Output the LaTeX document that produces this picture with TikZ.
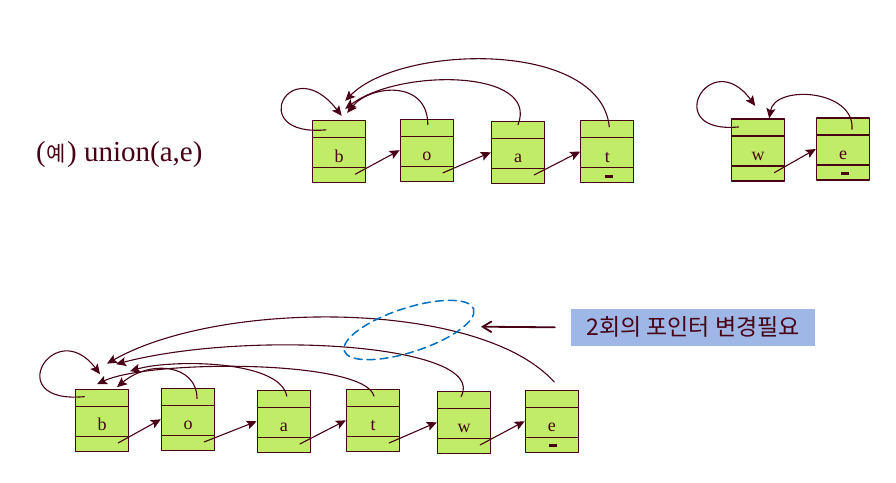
\documentclass[tikz,border=0pt]{standalone}
\usepackage{fontspec}
\setmainfont{Liberation Serif}
\newfontfamily\krfont{Noto Sans CJK KR}
\usetikzlibrary{arrows.meta,calc}

\definecolor{cellgreen}{RGB}{192,236,104}
\definecolor{ink}{RGB}{72,0,20}
\definecolor{notefill}{RGB}{158,183,230}
\definecolor{ringblue}{RGB}{0,112,192}

\tikzset{
  cell/.style={draw=ink, fill=cellgreen, line width=1.3pt, minimum width=53pt,
    minimum height=62pt, inner sep=0pt, text=ink, font=\fontsize{18}{18}\selectfont,
    text height=21pt, text depth=0pt,
    path picture={
      \draw[ink, line width=1.3pt] ([yshift=-17pt]path picture bounding box.north west)
        -- ([yshift=-17pt]path picture bounding box.north east);
      \draw[ink, line width=1.3pt] ([yshift=15pt]path picture bounding box.south west)
        -- ([yshift=15pt]path picture bounding box.south east);
    }},
  ptr/.style={draw=ink, line width=1.1pt, -{Stealth[length=10pt,width=9pt,inset=2pt]}},
  nil/.style={fill=ink},
  ring/.style={draw=ringblue, line width=1.5pt, dash pattern=on 8pt off 5pt},
  note/.style={fill=notefill, minimum width=244pt, minimum height=36.7pt, inner sep=0pt,
    text=ink, font=\krfont\fontsize{23}{23}\selectfont},
  hint/.style={draw=ink, line width=1.8pt, -{Straight Barb[length=9pt,width=11pt]}}
}

\begin{document}
\begin{tikzpicture}[x=1pt, y=-1pt, line cap=round, line join=round]
  \useasboundingbox (0,0) rectangle (896,482);

  \node[anchor=base west, inner sep=0pt, text=ink, font=\fontsize{29}{29}\selectfont]
    (title) at (36,161.5) {(\hspace{1pt}{\krfont\fontsize{21}{21}\selectfont 예}\hspace{1pt}) union(a,e)};

  % before: two sets
  \node[cell] (b1) at (339.2,151.5) {b};
  \node[cell] (o1) at (426.8,150.2) {o};
  \node[cell] (a1) at (518,152.3) {a};
  \node[cell] (t1) at (607.3,151.5) {t};
  \node[cell] (w1) at (758.2,150) {w};
  \node[cell] (e1) at (843,149) {e};

  % after union
  \node[cell] (b2) at (102,420.3) {b};
  \node[cell] (o2) at (188,419.3) {o};
  \node[cell] (a2) at (283.8,421.3) {a};
  \node[cell] (t2) at (373,420.3) {t};
  \node[cell] (w2) at (464,422.3) {w};
  \node[cell] (e2) at (551.8,421.2) {e};

  \foreach \p/\q in {b1/o1,o1/a1,a1/t1,w1/e1,b2/o2,o2/a2,a2/t2,t2/w2,w2/e2}
    \draw[ptr] ([shift={(-11,-9)}]\p.south east) -- (\q.west);

  \foreach \n in {t1,e1,e2}
    \fill[nil] ([shift={(-2.5,-8.5)}]\n.south) rectangle ++(8,3);

  % parent links, top
  \draw[ptr] ([shift={(14,10)}]b1.north west) .. controls +(-81.7,7.5) and +(-51.7,-66.5) .. ([shift={(2.5,-4)}]b1.north);
  \draw[ptr] ([shift={(1,6)}]o1.north) .. controls +(0,-45) and +(23,-28.5) .. ([shift={(8,-7)}]b1.north);
  \draw[ptr] ([shift={(0,4)}]a1.north) .. controls +(22,-55) and +(55,-41) .. ([shift={(6,-11)}]b1.north);
  \draw[ptr] ([shift={(2,7)}]t1.north) .. controls +(-9,-87.5) and +(55,-56.5) .. ([shift={(6,-19)}]b1.north);
  \draw[ptr] ([shift={(7.6,8.6)}]w1.north west) .. controls +(-79.3,7.4) and +(-45.2,-61.5) .. ([shift={(-3,-12.5)}]w1.north);
  \draw[ptr] ([shift={(9,12)}]e1.north) .. controls +(3,-40) and +(5.8,-34) .. ([shift={(11,0)}]w1.north);

  % parent links, bottom
  \draw[ptr] ([shift={(9.5,8)}]b2.north west) .. controls +(-85,7.7) and +(-45,-59.8) .. ([shift={(-2,-14.5)}]b2.north);
  \draw[ptr] ([shift={(9,11)}]o2.north) .. controls +(0,-34.3) and +(33,-27.8) .. ([shift={(15,-1.5)}]b2.north);
  \draw[ptr] ([shift={(3,6.5)}]a2.north) .. controls +(-6.8,-36.8) and +(40,-11.8) .. ([shift={(28,-17.5)}]b2.north);
  \draw[ptr] ([shift={(1,7.5)}]t2.north) .. controls +(-9,-36.8) and +(53,-24.8) .. ([shift={(-5,-4.5)}]b2.north);
  \draw[ptr] ([shift={(-3,6)}]w2.north) .. controls +(29,-52.3) and +(134,-34.8) .. ([shift={(14,-24.5)}]b2.north);
  \draw[ptr] ([shift={(2.5,-7.5)}]e2.north) .. controls +(-74.3,-82.7) and +(113,-64.3) .. ([shift={(5,-25)}]b2.north);

  \draw[ring, rotate around={18:(409,330)}] (409,330) ellipse [x radius=68, y radius=22];

  \node[note] (memo) at (693,327.3) {2회의 포인터 변경필요};
  \coordinate (ringend) at (481,326.7);
  \draw[hint] ([xshift=-16pt]memo.west) -- (ringend);
\end{tikzpicture}
\end{document}
